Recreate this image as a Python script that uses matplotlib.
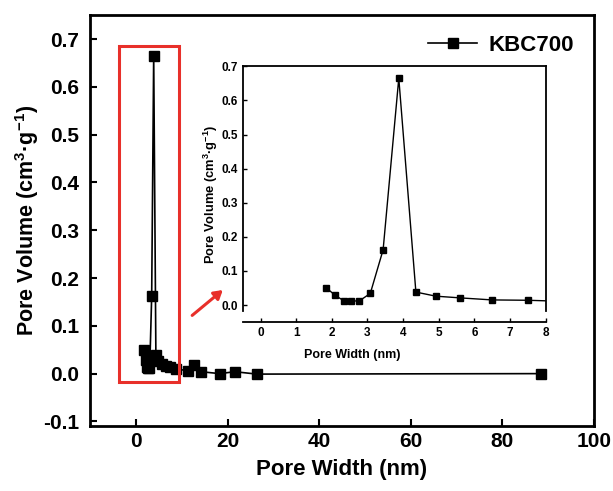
import matplotlib.pyplot as plt
from matplotlib.patches import Rectangle, FancyArrowPatch

plt.rcParams['font.family'] = ['Liberation Sans', 'DejaVu Sans']
plt.rcParams['font.weight'] = 'bold'
plt.rcParams['mathtext.fontset'] = 'custom'
plt.rcParams['mathtext.rm'] = 'Liberation Sans:bold'
plt.rcParams['mathtext.it'] = 'Liberation Sans:bold'
plt.rcParams['mathtext.bf'] = 'Liberation Sans:bold'

# pore size distribution (nm, cm3/g)
pore_width = [1.85, 2.10, 2.33, 2.55, 2.77, 3.08, 3.44, 3.88, 4.36, 4.92,
              5.60, 6.50, 7.50, 8.75, 11.3, 12.6, 14.2, 18.3, 21.6, 26.4, 88.5]
pore_volume = [0.050, 0.028, 0.013, 0.012, 0.012, 0.034, 0.162, 0.665, 0.038,
               0.026, 0.021, 0.015, 0.014, 0.010, 0.006, 0.018, 0.004, 0.000,
               0.004, -0.001, 0.000]
series_name = "KBC700"

main_xticks = [0, 20, 40, 60, 80, 100]
main_yticks = [-0.1, 0.0, 0.1, 0.2, 0.3, 0.4, 0.5, 0.6, 0.7]
inset_xticks = [0, 1, 2, 3, 4, 5, 6, 7, 8]
inset_yticks = [0.0, 0.1, 0.2, 0.3, 0.4, 0.5, 0.6, 0.7]

ylabel = "Pore Volume (cm$^{3}$·g$^{-1}$)"
xlabel = "Pore Width (nm)"

fig = plt.figure(figsize=(6.13, 4.91), dpi=100)

# --------------------------------------------------
# main axes
# --------------------------------------------------
ax = fig.add_axes([0.147, 0.132, 0.822, 0.837])
ax.plot(pore_width, pore_volume, color="black", lw=1.2, marker="s",
        ms=6.5, label=series_name)
ax.set_xlim(-10, 100)
ax.set_ylim(-0.11, 0.75)
ax.set_xticks(main_xticks)
ax.set_yticks(main_yticks)
ax.yaxis.set_major_formatter(plt.FormatStrFormatter("%.1f"))
ax.tick_params(direction="in", length=5, width=1.5, labelsize=15)
ax.tick_params(axis="y", pad=8)
ax.tick_params(axis="x", pad=4)
for s in ax.spines.values():
    s.set_linewidth(2)
ax.set_xlabel(xlabel, fontsize=16, fontweight="bold", labelpad=6)
ax.set_ylabel(ylabel, fontsize=15.5, fontweight="bold", labelpad=1)

leg = ax.legend(loc="upper right", frameon=False, fontsize=16,
                handlelength=2.2, borderaxespad=0.5, handletextpad=0.5)

# highlight box around the narrow-pore region
ax.add_patch(Rectangle((-3.7, -0.017), 13.1, 0.702, fill=False,
                       edgecolor="#e8302a", lw=2.2, zorder=5))

fig.patches.append(FancyArrowPatch((0.310, 0.354), (0.367, 0.413),
                                   transform=fig.transFigure,
                                   arrowstyle="-|>,head_length=5,head_width=3",
                                   color="#e8302a", lw=2.2))

# --------------------------------------------------
# inset: zoom on 0-8 nm
# --------------------------------------------------
ins = fig.add_axes([0.396, 0.344, 0.494, 0.521])
ins.plot(pore_width, pore_volume, color="black", lw=1.0, marker="s", ms=5)
ins.set_xlim(-0.5, 8)
ins.set_ylim(-0.05, 0.7)
ins.set_xticks(inset_xticks)
ins.set_yticks(inset_yticks)
ins.yaxis.set_major_formatter(plt.FormatStrFormatter("%.1f"))
ins.tick_params(direction="in", length=3, width=1, labelsize=8.5)
for s in ins.spines.values():
    s.set_linewidth(1.3)
ins.spines["left"].set_bounds(-0.018, 0.7)
ins.spines["right"].set_bounds(-0.018, 0.7)
ins.set_xlabel(xlabel, fontsize=9, fontweight="bold")
ins.xaxis.set_label_coords(0.36, -0.105)
ins.set_ylabel(ylabel, fontsize=9.3, fontweight="bold", labelpad=1)

fig.savefig("out.png", dpi=100)
